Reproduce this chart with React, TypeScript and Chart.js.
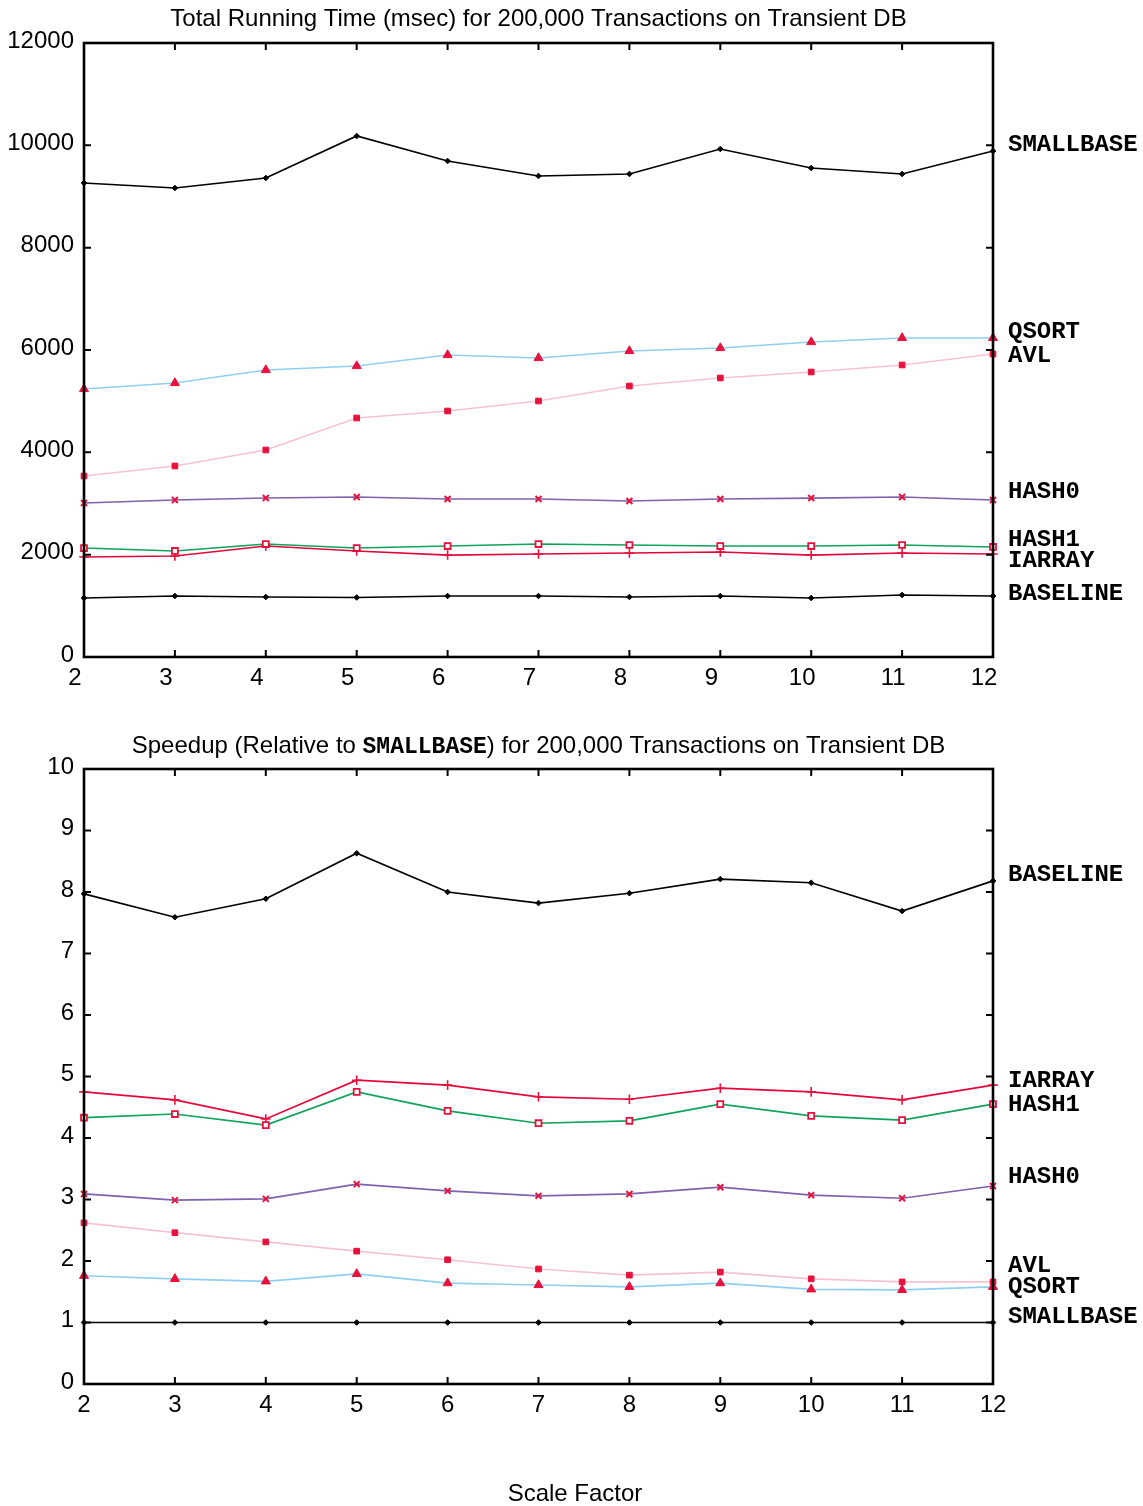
import React, { useEffect, useRef } from "react";
import { Chart, registerables } from "chart.js";
Chart.register(...registerables);

// ---------- data ----------
const SCALE_FACTORS = [2, 3, 4, 5, 6, 7, 8, 9, 10, 11, 12];
const SERIES_NAMES = ["SMALLBASE", "QSORT", "AVL", "HASH0", "HASH1", "IARRAY", "BASELINE"];

const TIME_SMALLBASE = [9264, 9166, 9362, 10182, 9694, 9401, 9440, 9928, 9557, 9440, 9889];
const TIME_QSORT = [5238, 5355, 5609, 5687, 5902, 5844, 5980, 6039, 6156, 6235, 6235];
const TIME_AVL = [3537, 3733, 4046, 4671, 4808, 5003, 5296, 5453, 5570, 5707, 5922];
const TIME_HASH0 = [3010, 3068, 3107, 3127, 3088, 3088, 3049, 3088, 3107, 3127, 3068];
const TIME_HASH1 = [2130, 2072, 2208, 2130, 2169, 2208, 2189, 2169, 2169, 2189, 2150];
const TIME_IARRAY = [1954, 1974, 2169, 2072, 1993, 2013, 2033, 2052, 1993, 2033, 2013];
const TIME_BASELINE = [1153, 1192, 1173, 1163, 1192, 1192, 1173, 1192, 1153, 1212, 1192];

const SPEEDUP_SMALLBASE = [1, 1, 1, 1, 1, 1, 1, 1, 1, 1, 1];
const SPEEDUP_QSORT = [1.76, 1.71, 1.67, 1.79, 1.64, 1.61, 1.58, 1.64, 1.54, 1.53, 1.58];
const SPEEDUP_AVL = [2.62, 2.46, 2.31, 2.16, 2.02, 1.87, 1.77, 1.82, 1.71, 1.66, 1.66];
const SPEEDUP_HASH0 = [3.09, 2.99, 3.01, 3.25, 3.14, 3.06, 3.09, 3.2, 3.07, 3.02, 3.22];
const SPEEDUP_HASH1 = [4.33, 4.39, 4.21, 4.75, 4.44, 4.24, 4.28, 4.55, 4.36, 4.29, 4.55];
const SPEEDUP_IARRAY = [4.75, 4.62, 4.31, 4.94, 4.86, 4.67, 4.63, 4.81, 4.75, 4.62, 4.86];
const SPEEDUP_BASELINE = [7.97, 7.59, 7.89, 8.63, 8.0, 7.82, 7.98, 8.21, 8.15, 7.69, 8.18];

const TIME_SERIES = [TIME_SMALLBASE, TIME_QSORT, TIME_AVL, TIME_HASH0, TIME_HASH1, TIME_IARRAY, TIME_BASELINE];
const SPEEDUP_SERIES = [SPEEDUP_SMALLBASE, SPEEDUP_QSORT, SPEEDUP_AVL, SPEEDUP_HASH0, SPEEDUP_HASH1, SPEEDUP_IARRAY, SPEEDUP_BASELINE];

const TOP_TITLE = "Total Running Time (msec) for 200,000 Transactions on Transient DB";
const BOTTOM_TITLE = ["Speedup (Relative to ", "SMALLBASE", ") for 200,000 Transactions on Transient DB"];
const X_TITLE = "Scale Factor";

// ---------- styles ----------
const RED = "#e8103c";
const STYLES: Record<string, any> = {
  SMALLBASE: { line: "#000000", pointStyle: "rectRot", radius: 2.8, fill: "#000000", stroke: "#000000", pw: 1 },
  QSORT: { line: "#90cff0", pointStyle: "triangle", radius: 5.2, fill: RED, stroke: RED, pw: 1 },
  AVL: { line: "#f7c3d3", pointStyle: "rect", radius: 4, fill: RED, stroke: RED, pw: 1 },
  HASH0: { line: "#7f62ae", pointStyle: "crossRot", radius: 4.2, fill: RED, stroke: RED, pw: 2 },
  HASH1: { line: "#10a35c", pointStyle: "rect", radius: 4.2, fill: "#ffffff", stroke: RED, pw: 1.8 },
  IARRAY: { line: "#e4073a", pointStyle: "cross", radius: 4.8, fill: RED, stroke: RED, pw: 1.6 },
  BASELINE: { line: "#000000", pointStyle: "rectRot", radius: 2.8, fill: "#000000", stroke: "#000000", pw: 1 },
};
const TOP_LABEL_NUDGE: Record<string, number> = { SMALLBASE: -6, QSORT: -6, AVL: 2, HASH0: -8, HASH1: -7, IARRAY: 7, BASELINE: -2 };
const BOTTOM_LABEL_NUDGE: Record<string, number> = { SMALLBASE: -6, QSORT: 0, AVL: -16, HASH0: -9, HASH1: 1, IARRAY: -4, BASELINE: -6 };

const SANS = "'Liberation Sans', Arial, sans-serif";
const MONO = "'Liberation Mono', 'Courier New', monospace";
const FONT_SIZE = 24;

function buildDatasets(series: number[][]) {
  return SERIES_NAMES.map((name, i) => {
    const s = STYLES[name];
    return {
      label: name,
      data: SCALE_FACTORS.map((x, j) => ({ x, y: series[i][j] })),
      borderColor: s.line,
      borderWidth: 1.7,
      backgroundColor: s.fill,
      pointStyle: s.pointStyle,
      pointRadius: s.radius,
      pointBackgroundColor: s.fill,
      pointBorderColor: s.stroke,
      pointBorderWidth: s.pw,
      tension: 0,
      clip: false as any,
    };
  });
}

function decorPlugin(opts: { nudges: Record<string, number>; drawTitle: (ctx: CanvasRenderingContext2D, cx: number) => void; xTitleY?: number }) {
  return {
    id: "decor",
    afterDraw(chart: any) {
      const ctx: CanvasRenderingContext2D = chart.ctx;
      const a = chart.chartArea;
      const xs = chart.scales.x;
      const ys = chart.scales.y;
      ctx.save();
      // inward tick marks
      ctx.strokeStyle = "#000";
      ctx.lineWidth = 2;
      const tl = 7;
      xs.ticks.forEach((t: any) => {
        const px = xs.getPixelForValue(t.value);
        ctx.beginPath();
        ctx.moveTo(px, a.bottom);
        ctx.lineTo(px, a.bottom - tl);
        ctx.moveTo(px, a.top);
        ctx.lineTo(px, a.top + tl);
        ctx.stroke();
      });
      ys.ticks.forEach((t: any) => {
        const py = ys.getPixelForValue(t.value);
        ctx.beginPath();
        ctx.moveTo(a.left, py);
        ctx.lineTo(a.left + tl, py);
        ctx.moveTo(a.right, py);
        ctx.lineTo(a.right - tl, py);
        ctx.stroke();
      });
      // frame
      ctx.lineWidth = 2.6;
      ctx.strokeRect(a.left, a.top, a.right - a.left, a.bottom - a.top);
      // series labels at right
      ctx.fillStyle = "#000";
      ctx.font = "bold 24px " + MONO;
      ctx.textAlign = "left";
      ctx.textBaseline = "middle";
      chart.data.datasets.forEach((ds: any, i: number) => {
        const meta = chart.getDatasetMeta(i);
        const last = meta.data[meta.data.length - 1];
        ctx.fillText(ds.label, a.right + 15, last.y + (opts.nudges[ds.label] || 0));
      });
      // titles
      opts.drawTitle(ctx, (a.left + a.right) / 2);
      if (opts.xTitleY !== undefined) {
        ctx.font = FONT_SIZE + "px " + SANS;
        ctx.textAlign = "center";
        ctx.textBaseline = "middle";
        ctx.fillStyle = "#000";
        ctx.fillText(X_TITLE, 575, opts.xTitleY);
      }
      ctx.restore();
    },
  };
}

function makeConfig(p: {
  series: number[][];
  yMax: number;
  yStep: number;
  padTop: number;
  xAxisHeight: number;
  xLabelOffset: number;
  plugin: any;
}) {
  return {
    type: "line" as const,
    data: { datasets: buildDatasets(p.series) },
    options: {
      responsive: false,
      animation: false as const,
      devicePixelRatio: 1,
      layout: { padding: { top: p.padTop, right: 150, left: 0, bottom: 0 } },
      plugins: { legend: { display: false }, tooltip: { enabled: false }, title: { display: false } },
      scales: {
        x: {
          type: "linear" as const,
          min: 2,
          max: 12,
          grid: { display: false },
          border: { display: false },
          ticks: {
            stepSize: 1,
            padding: -1,
            labelOffset: p.xLabelOffset,
            color: "#000",
            font: { family: SANS, size: FONT_SIZE },
            maxRotation: 0,
          },
          afterFit: (s: any) => {
            s.height = p.xAxisHeight;
          },
        },
        y: {
          type: "linear" as const,
          min: 0,
          max: p.yMax,
          grid: { display: false },
          border: { display: false },
          ticks: {
            stepSize: p.yStep,
            padding: 2,
            labelOffset: -2,
            color: "#000",
            font: { family: SANS, size: FONT_SIZE },
            callback: (v: any) => String(v),
          },
          afterFit: (s: any) => {
            s.width = 84;
          },
        },
      },
    },
    plugins: [p.plugin],
  };
}

function ChartCanvas({ config, width, height }: { config: () => any; width: number; height: number }) {
  const ref = useRef<HTMLCanvasElement | null>(null);
  useEffect(() => {
    if (!ref.current) return;
    const chart = new Chart(ref.current, config());
    return () => chart.destroy();
  }, []);
  return <canvas ref={ref} width={width} height={height} style={{ display: "block", width, height }} />;
}

export default function App() {
  const topConfig = () =>
    makeConfig({
      series: TIME_SERIES,
      yMax: 12000,
      yStep: 2000,
      padTop: 43,
      xAxisHeight: 43,
      xLabelOffset: -9,
      plugin: decorPlugin({
        nudges: TOP_LABEL_NUDGE,
        drawTitle: (ctx, cx) => {
          ctx.font = FONT_SIZE + "px " + SANS;
          ctx.textAlign = "center";
          ctx.textBaseline = "middle";
          ctx.fillStyle = "#000";
          ctx.fillText(TOP_TITLE, cx, 19);
        },
      }),
    });
  const bottomConfig = () =>
    makeConfig({
      series: SPEEDUP_SERIES,
      yMax: 10,
      yStep: 1,
      padTop: 69,
      xAxisHeight: 806 - 684,
      xLabelOffset: 0,
      plugin: decorPlugin({
        nudges: BOTTOM_LABEL_NUDGE,
        xTitleY: 794,
        drawTitle: (ctx, cx) => {
          const sansFont = FONT_SIZE + "px " + SANS;
          const monoFont = "bold 23px " + MONO;
          ctx.textBaseline = "middle";
          ctx.textAlign = "left";
          ctx.fillStyle = "#000";
          ctx.font = sansFont;
          const w1 = ctx.measureText(BOTTOM_TITLE[0]).width;
          const w3 = ctx.measureText(BOTTOM_TITLE[2]).width;
          ctx.font = monoFont;
          const w2 = ctx.measureText(BOTTOM_TITLE[1]).width;
          let x = cx - (w1 + w2 + w3) / 2;
          const y = 46;
          ctx.font = sansFont;
          ctx.fillText(BOTTOM_TITLE[0], x, y);
          x += w1;
          ctx.font = monoFont;
          ctx.fillText(BOTTOM_TITLE[1], x, y + 1);
          x += w2;
          ctx.font = sansFont;
          ctx.fillText(BOTTOM_TITLE[2], x, y);
        },
      }),
    });
  return (
    <div style={{ position: "absolute", left: 0, top: 0, width: 1143, height: 1506, background: "#fff" }}>
      <ChartCanvas config={topConfig} width={1143} height={700} />
      <ChartCanvas config={bottomConfig} width={1143} height={806} />
    </div>
  );
}
